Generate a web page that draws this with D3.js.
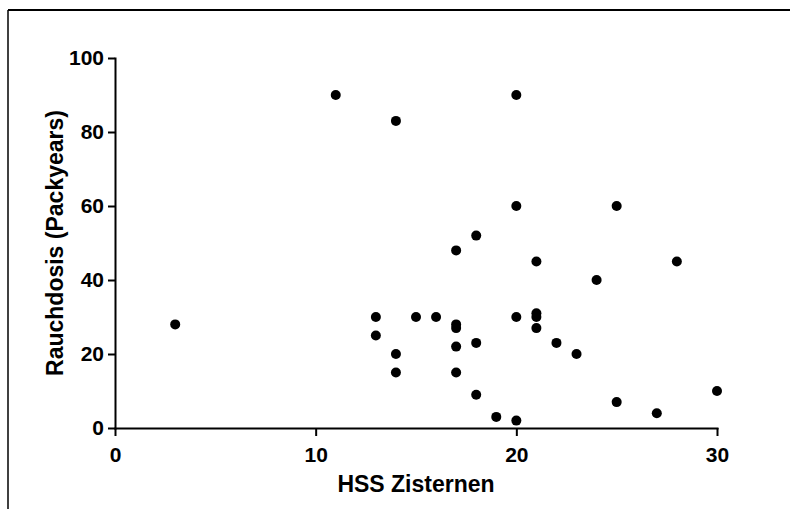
<!DOCTYPE html>
<html>
<head>
<meta charset="utf-8">
<script src="https://cdn.jsdelivr.net/npm/d3@7/dist/d3.min.js"></script>
<style>
  html, body { margin: 0; padding: 0; background: #fff; }
  svg { display: block; }
  text { font-family: "Liberation Sans", Arial, sans-serif; font-weight: bold; fill: #000; }
</style>
</head>
<body>
<svg id="chart" width="790" height="509"></svg>
<script>
// HSS Zisternen score vs. smoking dose (pack years)
const hss = [3, 11, 14, 20, 20, 25, 17, 18, 21, 28, 24, 13, 15, 16, 17, 17, 20, 21, 21, 21,
             13, 17, 18, 22, 23, 14, 14, 17, 18, 19, 20, 25, 27, 30];
const packyears = [28, 90, 83, 90, 60, 60, 48, 52, 45, 45, 40, 30, 30, 30, 28, 27, 30, 31, 30, 27,
                   25, 22, 23, 23, 20, 20, 15, 15, 9, 3, 2, 7, 4, 10];
const xTicks = [0, 10, 20, 30];
const yTicks = [0, 20, 40, 60, 80, 100];
const xTitle = "HSS Zisternen";
const yTitle = "Rauchdosis (Packyears)";

const svg = d3.select("#chart");

// outer frame: left and top edges
svg.append("line").attr("x1", 8).attr("y1", 10).attr("x2", 8).attr("y2", 509)
  .attr("stroke", "#000").attr("stroke-width", 1.5);
svg.append("line").attr("x1", 8).attr("y1", 10).attr("x2", 790).attr("y2", 10)
  .attr("stroke", "#000").attr("stroke-width", 2);

const x = d3.scaleLinear().domain([0, 30]).range([115, 717]);
const y = d3.scaleLinear().domain([0, 100]).range([428, 58]);

const xAxis = svg.append("g")
  .attr("transform", `translate(0,${y(0)})`)
  .call(d3.axisBottom(x).tickValues(xTicks).tickFormat(d3.format("d"))
    .tickSize(8).tickSizeOuter(0).tickPadding(11));

const yAxis = svg.append("g")
  .attr("transform", `translate(${x(0)},0)`)
  .call(d3.axisLeft(y).tickValues(yTicks).tickFormat(d3.format("d"))
    .tickSize(7).tickSizeOuter(0).tickPadding(4));

[xAxis, yAxis].forEach(g => {
  g.attr("font-family", null).attr("font-size", null);
  g.select(".domain").attr("stroke", "#000").attr("stroke-width", 2).attr("stroke-linecap", "square");
  g.selectAll(".tick line").attr("stroke", "#000").attr("stroke-width", 2);
  g.selectAll(".tick text").style("font-size", "21px");
});

// axis titles
svg.append("text")
  .attr("x", (x(0) + x(30)) / 2)
  .attr("y", 492)
  .attr("text-anchor", "middle")
  .style("font-size", "23px")
  .text(xTitle);

svg.append("text")
  .attr("transform", `translate(63,${(y(0) + y(100)) / 2}) rotate(-90)`)
  .attr("text-anchor", "middle")
  .style("font-size", "23px")
  .text(yTitle);

// data points
svg.append("g")
  .selectAll("circle")
  .data(hss.map((v, i) => [v, packyears[i]]))
  .join("circle")
  .attr("cx", d => x(d[0]))
  .attr("cy", d => y(d[1]))
  .attr("r", 5)
  .attr("fill", "#000");
</script>
</body>
</html>
